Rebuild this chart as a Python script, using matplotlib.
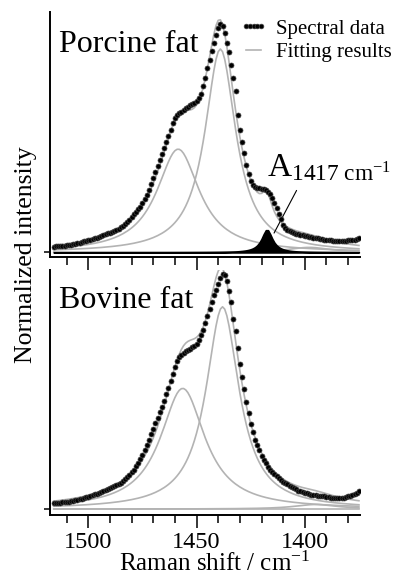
import numpy as np
import matplotlib
matplotlib.use('Agg')
import matplotlib.pyplot as plt
from matplotlib.lines import Line2D
from matplotlib.ticker import MultipleLocator, FixedLocator

plt.rcParams['font.family'] = ['Liberation Serif', 'DejaVu Serif']
plt.rcParams['mathtext.fontset'] = 'custom'
plt.rcParams['mathtext.rm'] = 'Liberation Serif'
plt.rcParams['mathtext.it'] = 'Liberation Serif:italic'

# Raman shift axis (cm-1), one point per wavenumber
shift = np.arange(1516, 1374, -1)

porcine = [
    0.025, 0.026, 0.027, 0.028, 0.029, 0.030, 0.031, 0.033, 0.034, 0.036,
    0.038, 0.040, 0.042, 0.045, 0.048, 0.050, 0.053, 0.056, 0.059, 0.062,
    0.065, 0.068, 0.071, 0.075, 0.079, 0.083, 0.087, 0.091, 0.095, 0.099,
    0.104, 0.110, 0.117, 0.125, 0.134, 0.144, 0.155, 0.166, 0.178, 0.190,
    0.200, 0.215, 0.232, 0.252, 0.274, 0.300, 0.326, 0.352, 0.378, 0.404,
    0.430, 0.457, 0.484, 0.510, 0.537, 0.565, 0.588, 0.602, 0.608, 0.614,
    0.622, 0.630, 0.638, 0.644, 0.648, 0.655, 0.664, 0.675, 0.695, 0.728,
    0.765, 0.805, 0.843, 0.880, 0.918, 0.952, 0.980, 0.998, 0.992, 0.962,
    0.918, 0.875, 0.820, 0.765, 0.705, 0.600, 0.535, 0.482, 0.437, 0.383,
    0.343, 0.312, 0.295, 0.288, 0.284, 0.281, 0.279, 0.277, 0.273, 0.266,
    0.254, 0.238, 0.218, 0.196, 0.170, 0.145, 0.122, 0.108, 0.099, 0.093,
    0.088, 0.085, 0.082, 0.080, 0.077, 0.075, 0.072, 0.070, 0.068, 0.066,
    0.065, 0.064, 0.062, 0.060, 0.058, 0.056, 0.055, 0.054, 0.053, 0.052,
    0.052, 0.052, 0.052, 0.052, 0.052, 0.052, 0.053, 0.054, 0.055, 0.056,
    0.059, 0.064,
]

bovine = [
    0.025, 0.026, 0.027, 0.028, 0.029, 0.030, 0.032, 0.033, 0.035, 0.037,
    0.039, 0.041, 0.043, 0.045, 0.048, 0.051, 0.054, 0.057, 0.060, 0.064,
    0.068, 0.072, 0.076, 0.080, 0.084, 0.088, 0.092, 0.096, 0.100, 0.105,
    0.110, 0.116, 0.123, 0.131, 0.140, 0.150, 0.161, 0.173, 0.187, 0.202,
    0.218, 0.236, 0.257, 0.280, 0.304, 0.328, 0.352, 0.376, 0.400, 0.424,
    0.448, 0.474, 0.502, 0.530, 0.560, 0.592, 0.622, 0.648, 0.664, 0.675,
    0.684, 0.691, 0.697, 0.702, 0.707, 0.714, 0.724, 0.740, 0.762, 0.785,
    0.812, 0.845, 0.875, 0.905, 0.935, 0.960, 0.985, 1.012, 1.028, 1.022,
    0.998, 0.955, 0.905, 0.830, 0.780, 0.705, 0.635, 0.580, 0.525, 0.470,
    0.420, 0.370, 0.335, 0.303, 0.280, 0.258, 0.232, 0.216, 0.200, 0.185,
    0.172, 0.162, 0.152, 0.143, 0.135, 0.127, 0.120, 0.114, 0.108, 0.100,
    0.095, 0.091, 0.086, 0.081, 0.077, 0.074, 0.072, 0.069, 0.066, 0.063,
    0.061, 0.060, 0.059, 0.058, 0.057, 0.056, 0.054, 0.052, 0.050, 0.049,
    0.048, 0.047, 0.047, 0.048, 0.050, 0.053, 0.056, 0.059, 0.063, 0.068,
    0.072, 0.077,
]

# fitted Lorentzian bands: centre, height, half width
porcine_centers = [1439.0, 1458.5, 1398.0]
porcine_heights = [0.89, 0.452, 0.022]
porcine_widths = [8.7, 12.0, 12.0]
band_center, band_height, band_width = 1417.5, 0.10, 3.0

bovine_centers = [1438.0, 1456.4, 1395.0]
bovine_heights = [0.885, 0.528, 0.02]
bovine_widths = [9.3, 12.5, 12.0]


def lorentz(x, c, h, w):
    return h / (1 + ((x - c) / w) ** 2)


gray = '#b3b3b3'
fig = plt.figure(figsize=(3.96, 5.75), dpi=100)
ax1 = fig.add_axes([50/396, 1-257/575, 310/396, 245/575])
ax2 = fig.add_axes([50/396, 1-515/575, 310/396, 245/575])


def draw(ax, data, centers, heights, widths, band=None):
    total = np.zeros(len(shift))
    ax.plot(shift, total, color=gray, lw=1.2)
    for c, h, w in zip(centers, heights, widths):
        comp = lorentz(shift, c, h, w)
        total += comp
        ax.plot(shift, comp, color=gray, lw=1.2)
    if band is not None:
        comp = lorentz(shift, *band)
        total += comp
        ax.fill_between(shift, 0, comp, facecolor='black', edgecolor='black', lw=1.2, zorder=3)
    ax.plot(shift, total, color=gray, lw=1.2)
    ax.plot(shift, data, 'o', color='black', ms=3.6, mec='#444444', mew=0.5, zorder=4)

    ax.set_xlim(1517.7, 1374.5)
    for s in ['top', 'right']:
        ax.spines[s].set_visible(False)
    for s in ['left', 'bottom']:
        ax.spines[s].set_linewidth(1.4)
    ax.xaxis.set_major_locator(FixedLocator([1500, 1450, 1400]))
    ax.xaxis.set_minor_locator(MultipleLocator(10))
    ax.yaxis.set_major_locator(FixedLocator([0]))
    ax.set_yticklabels([])
    ax.tick_params(axis='x', which='major', direction='out', length=9, width=1.1, labelsize=17.5, pad=3)
    ax.tick_params(axis='x', which='minor', direction='out', length=6, width=1.1)
    ax.tick_params(axis='y', direction='out', length=4.5, width=1.1)


draw(ax1, porcine, porcine_centers, porcine_heights, porcine_widths,
     band=(band_center, band_height, band_width))
draw(ax2, bovine, bovine_centers, bovine_heights, bovine_widths)
ax1.set_ylim(-0.02, 1.052)
ax2.set_ylim(-0.026, 1.046)
ax1.set_xticklabels([])

fig.text(59/396, 1-52/575, 'Porcine fat', fontsize=23, va='baseline')
fig.text(59/396, 1-308/575, 'Bovine fat', fontsize=23, va='baseline')

ax1.annotate('', xy=(1414.8, 0.074), xytext=(1403.2, 0.282),
             arrowprops=dict(arrowstyle='-', lw=0.8, color='black'))
ax1.text(1417.6, 0.335, r'$\mathrm{A}_{\mathrm{1417\ cm}^{-1}}$', fontsize=24, va='baseline')

handles = [Line2D([], [], ls='none', marker='o', color='black', ms=3.4, mec='#444444', mew=0.5),
           Line2D([], [], color=gray, lw=1.2)]
fig.legend(handles, ['Spectral data', 'Fitting results'], loc='upper left',
           bbox_to_anchor=(240/396, 1-19/575), frameon=False, fontsize=15,
           numpoints=5, handlelength=1.3, handletextpad=0.45, labelspacing=0.2,
           borderpad=0, borderaxespad=0)

fig.text(26/396, 1-255/575, 'Normalized intensity', fontsize=18.5, rotation=90,
         ha='center', va='center')
fig.text(215/396, 4/575, r'Raman shift / cm$^{-1}$', fontsize=18, ha='center', va='baseline')

fig.savefig('out.png', dpi=100)
